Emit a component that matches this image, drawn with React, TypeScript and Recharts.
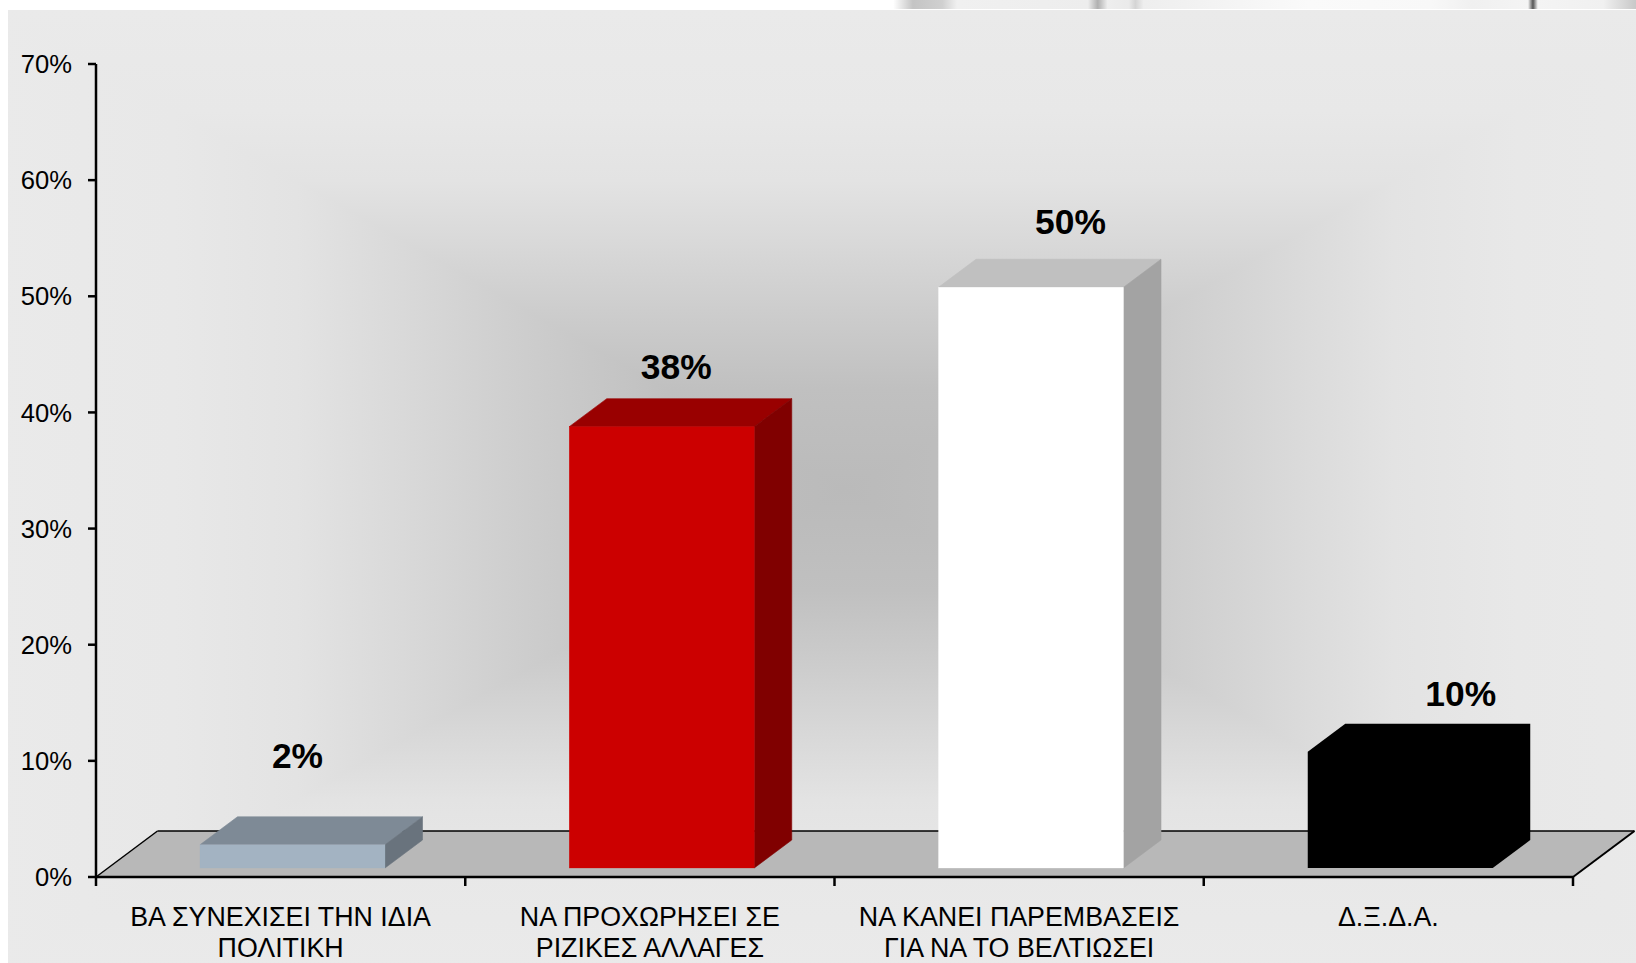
import React from "react";
import { BarChart, Bar, XAxis, YAxis, ReferenceArea, LabelList } from "recharts";

// ---- data ----
const categories = ["q1", "q2", "q3", "q4"];
const categoryLines = [
  ["ΒΑ ΣΥΝΕΧΙΣΕΙ ΤΗΝ ΙΔΙΑ", "ΠΟΛΙΤΙΚΗ"],
  ["ΝΑ ΠΡΟΧΩΡΗΣΕΙ ΣΕ", "ΡΙΖΙΚΕΣ ΑΛΛΑΓΕΣ"],
  ["ΝΑ ΚΑΝΕΙ ΠΑΡΕΜΒΑΣΕΙΣ", "ΓΙΑ ΝΑ ΤΟ ΒΕΛΤΙΩΣΕΙ"],
  ["Δ.Ξ.Δ.Α."],
];
const values = [2, 38, 50, 10];
const yTicks = [0, 10, 20, 30, 40, 50, 60, 70];

// ---- styling ----
const frontColors = ["#A3B3C2", "#CC0000", "#FFFFFF", "#000000"];
const topColors = ["#7E8A96", "#990000", "#C0C0C0", "#000000"];
const sideColors = ["#69737D", "#800000", "#A3A3A3", "#000000"];
const labelDx = [17, 26.5, 51.5, 72.5];
const labelDy = [-86, -57, -62, -55];

const W = 1636;
const H = 963;
const PLOT = { left: 96, top: 64, right: 1573, bottom: 877 };
const BAND = (PLOT.right - PLOT.left) / categories.length;
const FONT = "'Liberation Sans', Arial, sans-serif";
const DEPTH_X = 37.5;
const DEPTH_Y = 28;
const FRONT_SHIFT_X = 12;
const FRONT_SHIFT_Y = -9;
const FLOOR_DX = 61.5;
const FLOOR_DY = 46;

const rows = categories.map((c, i) => ({ key: c, value: values[i] }));

const Bar3D = (p: any) => {
  const i = p.index;
  const x = p.x + FRONT_SHIFT_X;
  const y = p.y + FRONT_SHIFT_Y;
  const w = p.width;
  const h = p.height;
  const pts = (a: number[][]) => a.map((q) => q.join(",")).join(" ");
  if (frontColors[i] === topColors[i] && frontColors[i] === sideColors[i]) {
    return (
      <polygon
        fill={frontColors[i]}
        points={pts([
          [x, y],
          [x + DEPTH_X, y - DEPTH_Y],
          [x + w + DEPTH_X, y - DEPTH_Y],
          [x + w + DEPTH_X, y + h - DEPTH_Y],
          [x + w, y + h],
          [x, y + h],
        ])}
      />
    );
  }
  return (
    <g>
      <polygon
        fill={topColors[i]}
        stroke={topColors[i]}
        strokeWidth={0.6}
        points={pts([[x, y], [x + DEPTH_X, y - DEPTH_Y], [x + w + DEPTH_X, y - DEPTH_Y], [x + w, y]])}
      />
      <polygon
        fill={sideColors[i]}
        stroke={sideColors[i]}
        strokeWidth={0.6}
        points={pts([[x + w, y], [x + w + DEPTH_X, y - DEPTH_Y], [x + w + DEPTH_X, y + h - DEPTH_Y], [x + w, y + h]])}
      />
      <rect x={x} y={y} width={w} height={h} fill={frontColors[i]} stroke={frontColors[i]} strokeWidth={0.3} />
    </g>
  );
};

const Floor = (p: any) => {
  const { x, y, width: w, height: h } = p;
  const b = y + h;
  return (
    <g>
      <polygon
        fill="#B8B8B8"
        points={`${x},${b} ${x + w},${b} ${x + w + FLOOR_DX},${y} ${x + FLOOR_DX},${y}`}
      />
      <line x1={x} y1={b} x2={x + FLOOR_DX} y2={y} stroke="#000" strokeWidth={1.5} />
      <line x1={x + FLOOR_DX} y1={y} x2={x + w + FLOOR_DX} y2={y} stroke="#000" strokeWidth={1.5} />
      <line x1={x + w} y1={b} x2={x + w + FLOOR_DX} y2={y} stroke="#000" strokeWidth={2} />
    </g>
  );
};

const CategoryTick = (p: any) => {
  const { x, y, index } = p;
  const lines = categoryLines[index];
  return (
    <g>
      <line x1={x - BAND / 2} y1={y} x2={x - BAND / 2} y2={y + 9} stroke="#000" strokeWidth={2.5} />
      {index === categories.length - 1 && (
        <line x1={x + BAND / 2} y1={y} x2={x + BAND / 2} y2={y + 9} stroke="#000" strokeWidth={2.5} />
      )}
      {lines.map((t: string, k: number) => (
        <text key={k} x={x} y={y + 49 + k * 30.5} textAnchor="middle" fontFamily={FONT} fontSize={26.8} fill="#000">
          {t}
        </text>
      ))}
    </g>
  );
};

const ValueLabel = (p: any) => {
  const { x, y, width, value, index } = p;
  return (
    <text
      x={x + width / 2 + labelDx[index]}
      y={y + labelDy[index]}
      textAnchor="middle"
      fontFamily={FONT}
      fontSize={35.4}
      fontWeight="bold"
      fill="#000"
    >
      {value}%
    </text>
  );
};

// Backdrop: rectangular "from centre" gradient made from four triangles.
const Backdrop = () => {
  const cx = 845, cy = 490, rx = 850, ry = 480;
  const stops = [
    [0, "#BABABA"], [0.21, "#C0C0C0"], [0.375, "#CDCDCD"], [0.52, "#D9D9D9"], [0.645, "#E3E3E3"], [0.79, "#E8E8E8"], [1, "#EAEAEA"],
  ] as [number, string][];
  const grad = (id: string, x2: number, y2: number) => (
    <linearGradient id={id} gradientUnits="userSpaceOnUse" x1={cx} y1={cy} x2={x2} y2={y2}>
      {stops.map(([o, c]) => <stop key={o} offset={o} stopColor={c} />)}
    </linearGradient>
  );
  const L = cx - rx, R = cx + rx, T = cy - ry, B = cy + ry;
  return (
    <svg width={W} height={H} style={{ position: "absolute", left: 0, top: 0 }}>
      <defs>
        {grad("bgL", L, cy)}
        {grad("bgR", R, cy)}
        {grad("bgT", cx, T)}
        {grad("bgB", cx, B)}
        <linearGradient id="strip" x1="0" x2="1" y1="0" y2="0">
          <stop offset="0.546" stopColor="#FFFFFF" />
          <stop offset="0.558" stopColor="#C4C4C4" />
          <stop offset="0.576" stopColor="#D0D0D0" />
          <stop offset="0.585" stopColor="#F0F0F0" />
          <stop offset="0.665" stopColor="#EDEDED" />
          <stop offset="0.671" stopColor="#B0B0B0" />
          <stop offset="0.677" stopColor="#EEEEEE" />
          <stop offset="0.69" stopColor="#EAEAEA" />
          <stop offset="0.694" stopColor="#D4D4D4" />
          <stop offset="0.699" stopColor="#EEEEEE" />
          <stop offset="0.8" stopColor="#FAFAFA" />
          <stop offset="0.875" stopColor="#F8F8F8" />
          <stop offset="0.9" stopColor="#F0F0F0" />
          <stop offset="0.934" stopColor="#F4F4F4" />
          <stop offset="0.937" stopColor="#555555" />
          <stop offset="0.94" stopColor="#F4F4F4" />
          <stop offset="0.98" stopColor="#F0F0F0" />
          <stop offset="1" stopColor="#C8C8C8" />
        </linearGradient>
      </defs>
      <g shapeRendering="crispEdges">
        <polygon fill="url(#bgL)" points={`${L},${T} ${cx},${cy} ${L},${B}`} />
        <polygon fill="url(#bgR)" points={`${R},${T} ${cx},${cy} ${R},${B}`} />
        <polygon fill="url(#bgT)" points={`${L},${T} ${R},${T} ${cx},${cy}`} />
        <polygon fill="url(#bgB)" points={`${L},${B} ${R},${B} ${cx},${cy}`} />
      </g>
      <rect x={0} y={0} width={8} height={H} fill="#FFFFFF" />
      <rect x={0} y={0} width={W} height={9} fill="url(#strip)" />
    </svg>
  );
};

export default function App() {
  return (
    <div style={{ position: "absolute", left: 0, top: 0, width: W, height: H, overflow: "hidden", background: "#fff" }}>
      <Backdrop />
      <div style={{ position: "absolute", left: 0, top: 0 }}>
        <BarChart
          width={W}
          height={H}
          data={rows}
          margin={{ top: PLOT.top, right: W - PLOT.right, bottom: 0, left: 0 }}
          barSize={185}
        >
          <XAxis
            dataKey="key"
            interval={0}
            height={H - PLOT.bottom}
            tickLine={false}
            tickSize={0}
            tickMargin={0}
            axisLine={{ stroke: "#000", strokeWidth: 2.5 }}
            tick={<CategoryTick />}
          />
          <YAxis
            width={PLOT.left}
            domain={[0, 70]}
            ticks={yTicks}
            interval={0}
            tickFormatter={(v: number) => `${v}%`}
            tickSize={8}
            tickMargin={16}
            tickLine={{ stroke: "#000", strokeWidth: 2.5 }}
            axisLine={{ stroke: "#000", strokeWidth: 2.5 }}
            tick={{ fill: "#000", fontSize: 25.6, fontFamily: FONT }}
          />
          <ReferenceArea y1={0} y2={FLOOR_DY / ((PLOT.bottom - PLOT.top) / 70)} ifOverflow="visible" shape={<Floor />} />
          <Bar dataKey="value" isAnimationActive={false} shape={<Bar3D />}>
            <LabelList dataKey="value" content={<ValueLabel />} />
          </Bar>
        </BarChart>
      </div>
    </div>
  );
}
